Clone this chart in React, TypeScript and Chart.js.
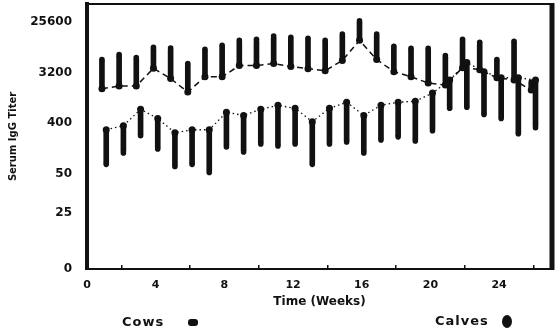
import React, { useEffect, useRef } from "react";
import { Chart, registerables } from "chart.js";

Chart.register(...registerables);

// Weeks after start
const weeks = [1, 2, 3, 4, 5, 6, 7, 8, 9, 10, 11, 12, 13, 14, 15, 16, 17, 18, 19, 20, 21, 22, 23, 24, 25, 26];

// Values are log2(titer) positions
const cowsMean = [10.68, 10.84, 10.84, 11.89, 11.28, 10.48, 11.39, 11.39, 12.05, 12.05, 12.17, 11.99, 11.87, 11.75, 12.35, 13.55, 12.41, 11.69, 11.39, 11.02, 10.9, 11.93, 11.81, 11.33, 11.2, 10.6];
const cowsUpper = [12.41, 12.71, 12.53, 13.13, 13.09, 12.17, 13.01, 13.25, 13.55, 13.61, 13.8, 13.73, 13.67, 13.55, 13.92, 14.7, 13.92, 13.19, 13.07, 13.07, 12.65, 13.61, 13.43, 12.41, 13.49, 11.08];
const calvesMean = [8.25, 8.49, 9.46, 8.92, 8.07, 8.25, 8.25, 9.28, 9.1, 9.46, 9.7, 9.52, 8.73, 9.52, 9.88, 9.1, 9.7, 9.88, 9.94, 10.42, 11.2, 12.23, 11.69, 11.33, 11.33, 11.2];
const calvesLower = [6.2, 6.87, 7.89, 7.11, 6.08, 6.2, 5.72, 7.23, 6.93, 7.41, 7.29, 7.41, 6.2, 7.41, 7.53, 6.87, 7.65, 7.83, 7.59, 8.19, 9.52, 9.58, 9.16, 8.92, 8.01, 8.37];

const xTicks = [0, 4, 8, 12, 16, 20, 24];
const yTickLabels = ["0", "25", "50", "400", "3200", "25600"];
const yTickPositions = [0, 3.3, 5.64, 8.64, 11.64, 14.64];

const INK = "#111111";
const COW_SHIFT = -0.13;
const CALF_SHIFT = 0.12;

const framePlugin = {
  id: "frameTopRight",
  beforeDatasetsDraw(chart: any) {
    const { ctx, chartArea } = chart;
    ctx.save();
    ctx.strokeStyle = INK;
    ctx.lineCap = "butt";
    ctx.lineWidth = 2;
    ctx.beginPath();
    ctx.moveTo(chartArea.left, chartArea.top);
    ctx.lineTo(chartArea.right, chartArea.top);
    ctx.stroke();
    ctx.lineWidth = 5;
    ctx.beginPath();
    ctx.moveTo(chartArea.right, chartArea.top - 1);
    ctx.lineTo(chartArea.right, chartArea.bottom + 1);
    ctx.stroke();
    ctx.restore();
  },
};

export default function App() {
  const canvasRef = useRef<HTMLCanvasElement | null>(null);

  useEffect(() => {
    const canvas = canvasRef.current;
    if (!canvas) return;

    const cowPts = weeks.map((w, i) => ({ x: w + COW_SHIFT, y: cowsMean[i] }));
    const calfPts = weeks.map((w, i) => ({ x: w + CALF_SHIFT, y: calvesMean[i] }));
    const cowBars = weeks.map((w, i) => ({ x: w + COW_SHIFT, y: [cowsMean[i], cowsUpper[i]] }));
    const calfBars = weeks.map((w, i) => ({ x: w + CALF_SHIFT, y: [calvesLower[i], calvesMean[i]] }));
    const cowEnds = weeks.map((w, i) => ({ x: w + COW_SHIFT, y: cowsUpper[i] }));
    const calfEnds = weeks.map((w, i) => ({ x: w + CALF_SHIFT, y: calvesLower[i] }));

    const tickFont = { family: "'DejaVu Sans', sans-serif", weight: "bold" as const };

    const chart = new Chart(canvas, {
      type: "line",
      data: {
        datasets: [
          {
            type: "bar",
            label: "Cows SD",
            data: cowBars as any,
            backgroundColor: INK,
            barThickness: 5,
            grouped: false,
            borderRadius: 2,
            borderSkipped: false,
            order: 3,
          } as any,
          {
            type: "bar",
            label: "Calves SD",
            data: calfBars as any,
            backgroundColor: INK,
            barThickness: 5,
            grouped: false,
            borderRadius: 2,
            borderSkipped: false,
            order: 3,
          } as any,
          {
            type: "scatter",
            label: "Cows SD end",
            data: cowEnds,
            pointRadius: 2.8,
            pointBackgroundColor: INK,
            pointBorderWidth: 0,
            showLine: false,
            order: 2,
          } as any,
          {
            type: "scatter",
            label: "Calves SD end",
            data: calfEnds,
            pointRadius: 2.8,
            pointBackgroundColor: INK,
            pointBorderWidth: 0,
            showLine: false,
            order: 2,
          } as any,
          {
            type: "line",
            label: "Cows",
            data: cowPts,
            borderColor: INK,
            borderWidth: 1.5,
            borderDash: [6, 4],
            pointRadius: 3.5,
            pointBackgroundColor: INK,
            pointBorderWidth: 0,
            tension: 0,
            order: 1,
          },
          {
            type: "line",
            label: "Calves",
            data: calfPts,
            borderColor: INK,
            borderWidth: 1.3,
            borderDash: [1.5, 3],
            pointRadius: 3.5,
            pointBackgroundColor: INK,
            pointBorderWidth: 0,
            tension: 0,
            order: 1,
          },
        ],
      },
      options: {
        animation: false,
        responsive: false,
        maintainAspectRatio: false,
        layout: { padding: { top: 4, right: 6, left: 0, bottom: 0 } },
        plugins: {
          legend: { display: false },
          tooltip: { enabled: false },
        },
        scales: {
          x: {
            type: "linear",
            position: "bottom",
            min: 0,
            max: 27.08,
            offset: false,
            afterBuildTicks: (s: any) => {
              s.ticks = xTicks.map((v) => ({ value: v }));
            },
            afterFit: (s: any) => {
              s.height = 65;
              s.paddingLeft = 0;
              s.paddingRight = 0;
            },
            grid: {
              display: true,
              drawOnChartArea: false,
              drawTicks: true,
              tickLength: -4,
              color: INK,
              lineWidth: 1.5,
            },
            border: { display: true, color: INK, width: 2 },
            ticks: {
              color: INK,
              font: { ...tickFont, size: 11 },
              padding: 14,
              maxRotation: 0,
              autoSkip: false,
            },
            title: {
              display: true,
              text: "Time (Weeks)",
              color: INK,
              font: { ...tickFont, size: 12 },
              padding: { top: 0, bottom: 25 },
            },
          },
          y: {
            type: "linear",
            position: "left",
            min: 0,
            max: 15.7,
            afterBuildTicks: (s: any) => {
              s.ticks = yTickPositions.map((v) => ({ value: v }));
            },
            afterFit: (s: any) => {
              s.width = 87;
              s.paddingTop = 0;
              s.paddingBottom = 0;
            },
            grid: { display: false, drawTicks: false },
            border: { display: true, color: INK, width: 4 },
            ticks: {
              color: INK,
              font: { ...tickFont, size: 12 },
              padding: 15,
              autoSkip: false,
              callback: (v: any) => {
                const idx = yTickPositions.indexOf(Number(v));
                return idx >= 0 ? yTickLabels[idx] : "";
              },
            },
            title: {
              display: true,
              text: "Serum IgG Titer",
              color: INK,
              font: { ...tickFont, size: 10 },
              padding: { top: 7, bottom: 0 },
            },
          },
        },
      } as any,
      plugins: [framePlugin],
    });

    return () => {
      chart.destroy();
    };
  }, []);

  const legendText: React.CSSProperties = {
    position: "absolute",
    fontFamily: "'DejaVu Sans', sans-serif",
    fontWeight: "bold",
    fontSize: 13,
    letterSpacing: 1,
    color: INK,
    lineHeight: "14px",
    whiteSpace: "nowrap",
  };

  return (
    <div
      style={{
        position: "fixed",
        left: 0,
        top: 0,
        width: 558,
        height: 334,
        background: "#ffffff",
        overflow: "hidden",
      }}
    >
      <canvas ref={canvasRef} width={558} height={334} style={{ width: 558, height: 334, display: "block" }} />
      <div style={{ ...legendText, left: 122, top: 315 }}>Cows</div>
      <div
        style={{
          position: "absolute",
          left: 188,
          top: 319,
          width: 10,
          height: 7,
          borderRadius: 3,
          background: INK,
        }}
      />
      <div style={{ ...legendText, left: 435, top: 314 }}>Calves</div>
      <div
        style={{
          position: "absolute",
          left: 502,
          top: 315,
          width: 10,
          height: 13,
          borderRadius: "50%",
          background: INK,
        }}
      />
    </div>
  );
}
